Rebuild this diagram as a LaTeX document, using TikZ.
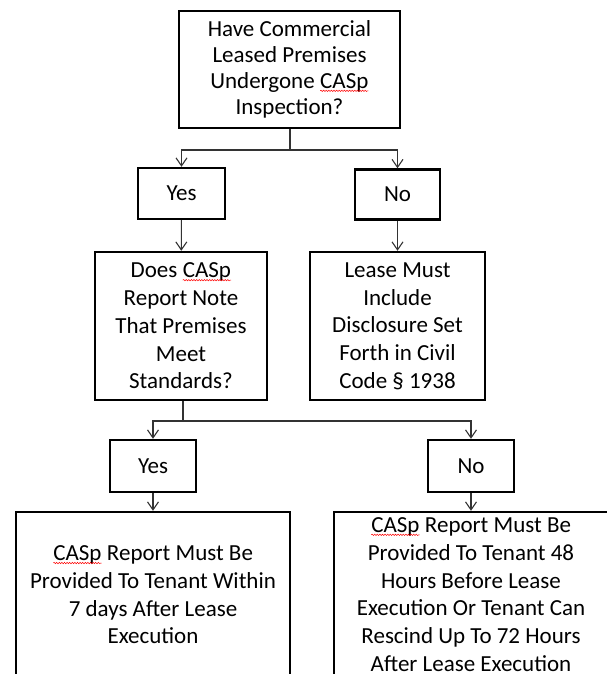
\documentclass[tikz,border=0pt]{standalone}
\usepackage{fontspec}
\setmainfont{Carlito}
\usetikzlibrary{positioning, arrows.meta, decorations.pathmorphing}

% red spell-check wave under a word
\newcommand\spellmark[1]{\tikz[baseline=(w.base)]{\node[inner sep=0pt, outer sep=0pt, draw=none,
    minimum width=0pt, minimum height=0pt] (w) {#1};
  \draw[red, line width=0.5pt, decorate, decoration={snake, amplitude=0.7pt, segment length=2.6pt}]
    ([yshift=-2.2pt]w.base west) -- ([yshift=-2.2pt]w.base east);}}

\tikzset{
  box/.style={draw, line width=2.4pt, align=center, inner sep=0pt,
    font=\fontsize{23}{27.7}\selectfont},
  link/.style={line width=1.1pt, draw=black!80},
  arr/.style={link, -{Straight Barb[length=8pt,width=11pt]}},
}

\begin{document}
\begin{tikzpicture}[x=1pt, y=-1pt]
\useasboundingbox (0,0) rectangle (606,674);

\node[box, minimum width=221pt, minimum height=117pt, font=\fontsize{23}{26}\selectfont] (q1) at (289.5,69.5)
  {Have Commercial\\Leased Premises\\Undergone \spellmark{CASp}\\Inspection?};
\node[box, minimum width=87pt, minimum height=51pt] (yes1) at (181.5,193.5) {Yes};
\node[box, minimum width=85pt, minimum height=50pt] (no1) at (397.5,194.5) {No};
\node[box, minimum width=172pt, minimum height=148pt] (q2) at (181,326)
  {Does \spellmark{CASp}\\Report Note\\That Premises\\Meet\\Standards?};
\node[box, minimum width=175pt, minimum height=148pt] (lease) at (397.5,326)
  {Lease Must\\Include\\Disclosure Set\\Forth in Civil\\Code \S\ 1938};
\node[box, minimum width=86pt, minimum height=52pt] (yes2) at (153,466) {Yes};
\node[box, minimum width=86pt, minimum height=52pt] (no2) at (471,466) {No};
\node[box, minimum width=274pt, minimum height=166pt] (res1) at (153,595)
  {\spellmark{CASp} Report Must Be\\Provided To Tenant Within\\7 days After Lease\\Execution};
\node[box, minimum width=274pt, minimum height=165pt] (res2) at (471,594.5)
  {\spellmark{CASp} Report Must Be\\Provided To Tenant 48\\Hours Before Lease\\Execution Or Tenant Can\\Rescind Up To 72 Hours\\After Lease Execution};

\coordinate (j1) at (290,150);
\coordinate (j2) at (183,421);

\draw[link] (q1.south -| j1) -- (j1);
\draw[arr] (j1) -| (yes1.north);
\draw[arr] (j1) -| (no1.north);
\draw[arr] (yes1) -- (q2);
\draw[arr] (no1) -- (lease);

\draw[link] (q2.south -| j2) -- (j2);
\draw[arr] (j2) -| (yes2.north);
\draw[arr] (j2) -| (no2.north);
\draw[arr] (yes2) -- (res1);
\draw[arr] (no2) -- (res2);
\end{tikzpicture}
\end{document}
